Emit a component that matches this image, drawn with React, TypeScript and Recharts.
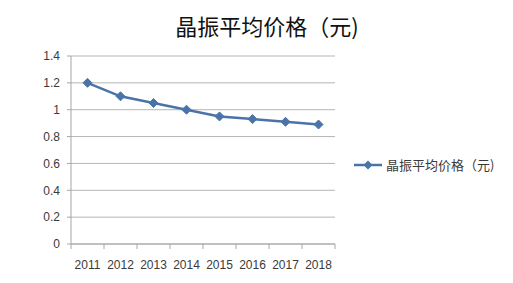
import React from 'react';
import { LineChart, Line, XAxis, YAxis, CartesianGrid } from 'recharts';

const years = ['2011', '2012', '2013', '2014', '2015', '2016', '2017', '2018'];
const prices = [1.2, 1.1, 1.05, 1.0, 0.95, 0.93, 0.91, 0.89];
const yTicks = [0, 0.2, 0.4, 0.6, 0.8, 1, 1.2, 1.4];
const seriesName = '晶振平均价格（元)';
const titleText = '晶振平均价格（元)';

const data = years.map((y, i) => ({ year: y, price: prices[i] }));

const LINE_COLOR = '#4a74a8';
const AXIS_COLOR = '#a6a6a6';
const TEXT_COLOR = '#3a3a3a';

const Diamond = (props: any) => {
  const { cx, cy } = props;
  if (cx == null || cy == null) return null;
  const r = 4.5;
  return (
    <polygon
      points={`${cx},${cy - r} ${cx + r},${cy} ${cx},${cy + r} ${cx - r},${cy}`}
      fill={LINE_COLOR}
      stroke={LINE_COLOR}
      strokeWidth={1}
    />
  );
};

const XTick = (props: any) => {
  const { x, y, payload, index, visibleTicksCount } = props;
  const half = payload && typeof payload.offset === 'number' && payload.offset > 0 ? payload.offset : 16.5;
  const isLast = index === (visibleTicksCount ?? years.length) - 1;
  return (
    <g>
      <line x1={x - half} y1={y} x2={x - half} y2={y + 5} stroke={AXIS_COLOR} strokeWidth={1} />
      {isLast && <line x1={x + half} y1={y} x2={x + half} y2={y + 5} stroke={AXIS_COLOR} strokeWidth={1} />}
      <text x={x} y={y + 25} textAnchor="middle" fill={TEXT_COLOR} fontSize={12} fontFamily="Liberation Sans, Arial, sans-serif">
        {payload.value}
      </text>
    </g>
  );
};

const LegendBox = () => (
  <svg width={160} height={20} style={{ position: 'absolute', left: 354, top: 155, overflow: 'visible' }}>
    <line x1={0} y1={10} x2={28} y2={10} stroke={LINE_COLOR} strokeWidth={2.5} />
    <polygon points="14,5.5 18.5,10 14,14.5 9.5,10" fill={LINE_COLOR} />
    <text x={32} y={14.5} fill={TEXT_COLOR} fontSize={13} fontFamily="Noto Sans CJK SC, sans-serif">
      {seriesName}
    </text>
  </svg>
);

export default function App() {
  return (
    <div style={{ position: 'absolute', left: 0, top: 0, width: 513, height: 283, background: '#fff' }}>
      <div
        style={{
          position: 'absolute',
          left: 0,
          width: 534,
          top: 10,
          textAlign: 'center',
          fontFamily: 'Noto Sans CJK SC, sans-serif',
          fontSize: 22,
          lineHeight: '30px',
          color: '#111',
        }}
      >
        {titleText}
      </div>
      <LineChart
        width={513}
        height={283}
        data={data}
        margin={{ top: 56, right: 178, bottom: 9, left: 0 }}
      >
        <CartesianGrid horizontal={true} vertical={false} stroke="#b5b5b5" strokeWidth={1} />
        <XAxis
          dataKey="year"
          scale="band"
          height={30}
          tickLine={false}
          tickSize={0}
          tickMargin={0}
          axisLine={{ stroke: AXIS_COLOR }}
          tick={<XTick />}
          interval={0}
        />
        <YAxis
          width={71}
          domain={[0, 1.4]}
          ticks={yTicks}
          tickSize={4}
          tickMargin={7}
          axisLine={{ stroke: AXIS_COLOR }}
          tickLine={{ stroke: AXIS_COLOR }}
          tick={{ fill: TEXT_COLOR, fontSize: 12, fontFamily: 'Liberation Sans, Arial, sans-serif' }}
        />
        <Line
          type="linear"
          dataKey="price"
          name={seriesName}
          stroke={LINE_COLOR}
          strokeWidth={2.5}
          dot={<Diamond />}
          activeDot={false}
          isAnimationActive={false}
        />
      </LineChart>
      <LegendBox />
    </div>
  );
}
